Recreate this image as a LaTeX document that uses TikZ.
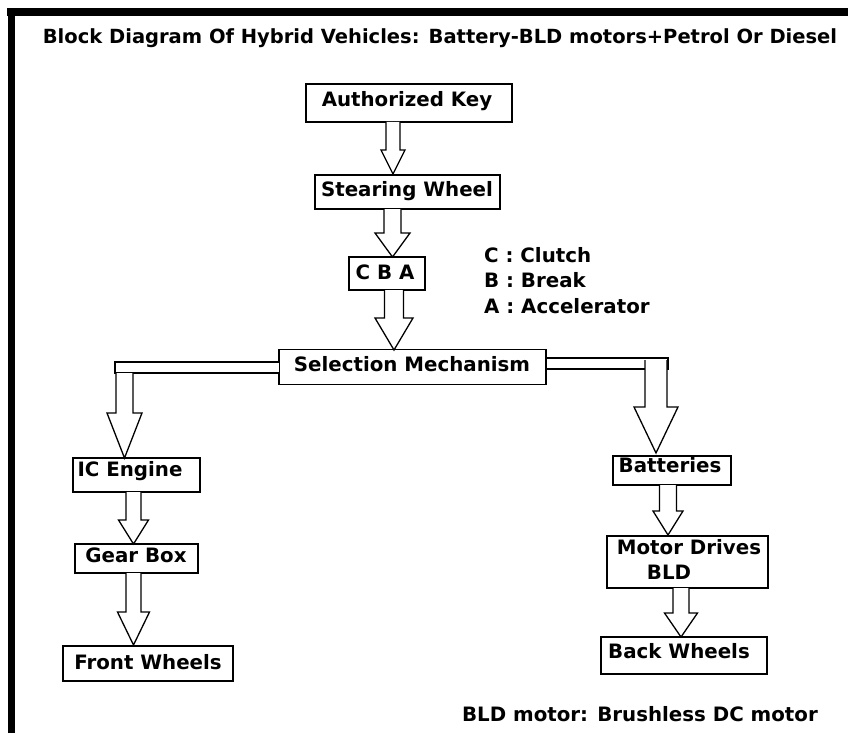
\documentclass[tikz,border=0pt]{standalone}
\usepackage{fontspec}
\setmainfont{DejaVu Sans}
\begin{document}
\begin{tikzpicture}[x=1pt,y=-1pt,
  box/.style={draw=black,line width=1.5pt,fill=white,inner sep=0pt},
  txt/.style={inner sep=0pt,font=\fontsize{19.8}{24}\selectfont\bfseries},
  blk/.style={draw=black,line width=1.3pt,fill=white,line join=miter}]
\useasboundingbox[fill=white] (0,0) rectangle (848,733);
% frame bars
\fill[black] (7,8) rectangle (848,16);
\fill[black] (8,8) rectangle (15,733);
% title
\node[txt,font=\fontsize{19.5}{23}\selectfont\bfseries] (title) at (440,38) {Block Diagram Of Hybrid Vehicles: Battery-BLD motors+Petrol Or Diesel};
% boxes
\node[box,minimum width=206pt,minimum height=38pt] (key) at (409,103) {};
\node[txt] (keyt) at (407,101) {Authorized Key};
\node[box,minimum width=185pt,minimum height=34pt] (steer) at (407.5,192) {};
\node[txt] (steert) at (407,191) {Stearing Wheel};
\node[box,minimum width=76pt,minimum height=33pt] (cba) at (387,273.5) {};
\node[txt] (cbat) at (385,272) {C B A};
\node[box,minimum width=267pt,minimum height=35pt] (sel) at (412.5,367) {};
\node[txt] (selt) at (412,364) {Selection Mechanism};
\node[box,minimum width=127pt,minimum height=34pt] (ic) at (136.5,475) {};
\node[txt] (ict) at (130,471.5) {IC Engine};
\node[box,minimum width=123pt,minimum height=29pt] (gear) at (136.5,558.5) {};
\node[txt] (geart) at (136,555) {Gear Box};
\node[box,minimum width=170pt,minimum height=35pt] (front) at (148,663.5) {};
\node[txt] (frontt) at (148,662) {Front Wheels};
\node[box,minimum width=118pt,minimum height=29pt] (bat) at (672,470.5) {};
\node[txt] (batt) at (670,465) {Batteries};
\node[box,minimum width=161pt,minimum height=52pt] (motor) at (687.5,562) {};
\node[txt] (motort1) at (689,547) {Motor Drives};
\node[txt] (motort2) at (669,572) {BLD};
\node[box,minimum width=166pt,minimum height=37pt] (back) at (684,655.5) {};
\node[txt] (backt) at (679,651) {Back Wheels};
% legend
\node[txt,anchor=west] (lc) at (484,255) {C : Clutch};
\node[txt,anchor=west] (lb) at (484,280) {B : Break};
\node[txt,anchor=west] (la) at (484,306) {A : Accelerator};
\node[txt,anchor=east] (note) at (818,714) {BLD motor: Brushless DC motor};
% block arrows: x, ytop, yhead, ytip, half shaft, half head
\newcommand\blockarr[6]{%
  \draw[blk] ({#1-#5},#2) -- ({#1-#5},#3) -- ({#1-#6},#3) -- (#1,#4) -- ({#1+#6},#3) -- ({#1+#5},#3) -- ({#1+#5},#2);}
\blockarr{393}{122}{150}{174}{7}{12}
\blockarr{392.5}{209}{233}{257}{8.5}{17.5}
\blockarr{394}{290}{318}{350}{9.5}{19}
\blockarr{133.5}{492}{520}{544}{7.5}{15}
\blockarr{133.5}{573}{612}{645}{7.5}{16}
\blockarr{668}{485}{511}{535}{8.5}{15}
\blockarr{681}{588}{613}{637}{8}{16.5}
% left branch
\draw[blk] (279,362) -- (115,362) -- (115,373) -- (279,373);
\blockarr{124.5}{373}{413}{458}{8.5}{17.5}
% right branch
\draw[blk,line width=2pt] (546,358) rectangle (668,369);
\blockarr{656}{360}{407}{453}{11}{22}
\end{tikzpicture}
\end{document}
